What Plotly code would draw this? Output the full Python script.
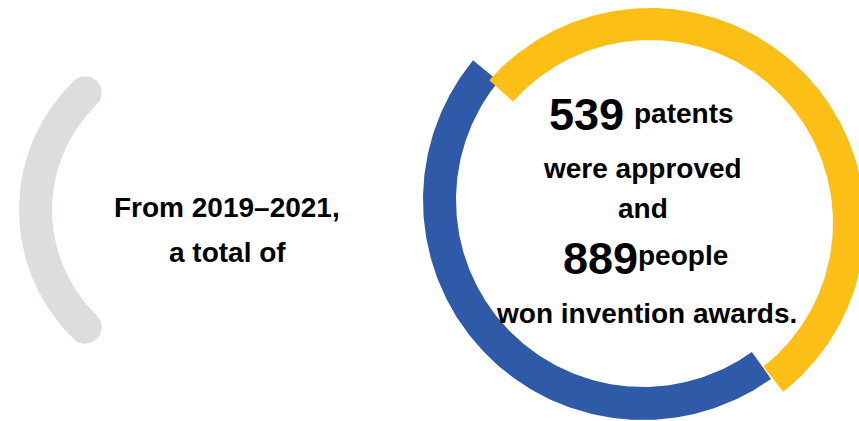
import numpy as np
import plotly.graph_objects as go

# ---------------- data ----------------
period_label = "From 2019–2021,"
total_label = "a total of"
patents_approved = 539
inventors_awarded = 889
patents_unit = "patents"
patents_line2 = "were approved"
joiner = "and"
inventors_unit = "people"
inventors_line2 = "won invention awards."

arc_names = ["gray", "blue", "yellow"]
arc_start_deg = [134.0, 140.6, 138.4]
arc_end_deg = [226.0, 305.6, -51.7]

# ---------------- geometry / style (pixel space) ----------------
W, H = 859, 421
GEOM = {
    "gray":   dict(cx=198.5, cy=210.0, r_in=146.5, r_out=179.5, color="#DCDDDD", caps=True),
    "blue":   dict(cx=643.0, cy=200.0, r_in=187.0, r_out=220.0, color="#2E5AA7", caps=False),
    "yellow": dict(cx=650.0, cy=223.0, r_in=183.0, r_out=215.0, color="#FBBF15", caps=False),
}
FONT = "Liberation Sans, Arial, sans-serif"


def arc_polygon(cx, cy, r_in, r_out, a0, a1, caps, n=240):
    t = np.radians(np.linspace(a0, a1, n))
    xo, yo = cx + r_out * np.cos(t), cy - r_out * np.sin(t)
    xi, yi = cx + r_in * np.cos(t[::-1]), cy - r_in * np.sin(t[::-1])
    xs, ys = [xo], [yo]
    if caps:
        hw = (r_out - r_in) / 2
        rm = (r_out + r_in) / 2
        sgn = 1.0 if a1 > a0 else -1.0

        def cap(a, phis):
            a = np.radians(a)
            mx, my = cx + rm * np.cos(a), cy - rm * np.sin(a)
            rad = np.array([np.cos(a), -np.sin(a)])
            tan = sgn * np.array([-np.sin(a), -np.cos(a)])
            px = mx + hw * (np.cos(phis) * rad[0] + np.sin(phis) * tan[0])
            py = my + hw * (np.cos(phis) * rad[1] + np.sin(phis) * tan[1])
            return px, py
        ex, ey = cap(a1, np.linspace(0, np.pi, 40))
        xs.append(ex); ys.append(ey)
        xs.append(xi); ys.append(yi)
        sx, sy = cap(a0, np.linspace(np.pi, 2 * np.pi, 40))
        xs.append(sx); ys.append(sy)
    else:
        xs.append(xi); ys.append(yi)
    x = np.concatenate(xs); y = np.concatenate(ys)
    return np.append(x, x[0]), np.append(y, y[0])


fig = go.Figure()
for name, a0, a1 in zip(arc_names, arc_start_deg, arc_end_deg):
    g = GEOM[name]
    x, y = arc_polygon(g["cx"], g["cy"], g["r_in"], g["r_out"], a0, a1, g["caps"])
    fig.add_trace(go.Scatter(x=x, y=y, mode="lines", fill="toself",
                             fillcolor=g["color"], line=dict(width=0, color=g["color"]),
                             hoverinfo="skip", showlegend=False))


def txt(text, x, baseline, size, xanchor="center"):
    fig.add_annotation(x=x, y=baseline - 0.33 * size, xref="x", yref="y",
                       text=text, showarrow=False, xanchor=xanchor, yanchor="middle",
                       font=dict(size=size, family=FONT, color="#000000", weight="bold"))


txt(period_label, 226.5, 217, 28)
txt(total_label, 227, 262, 28)

txt(str(patents_approved), 586.5, 129, 45)
txt(patents_unit, 684, 123, 28)
txt(patents_line2, 642.5, 178, 28)
txt(joiner, 642.5, 218, 28)
txt(str(inventors_awarded), 600.5, 273, 45)
txt(inventors_unit, 683, 265, 28)
txt(inventors_line2, 646.5, 323, 28)

fig.update_layout(
    width=W, height=H, autosize=False,
    margin=dict(l=0, r=0, t=0, b=0, pad=0),
    paper_bgcolor="white", plot_bgcolor="white",
    xaxis=dict(range=[0, W], visible=False, fixedrange=True),
    yaxis=dict(range=[H, 0], visible=False, fixedrange=True),
    showlegend=False,
)

fig.write_html("out.html", config={"displayModeBar": False},
               post_script="document.body.style.margin='0';document.body.style.overflow='hidden';")
